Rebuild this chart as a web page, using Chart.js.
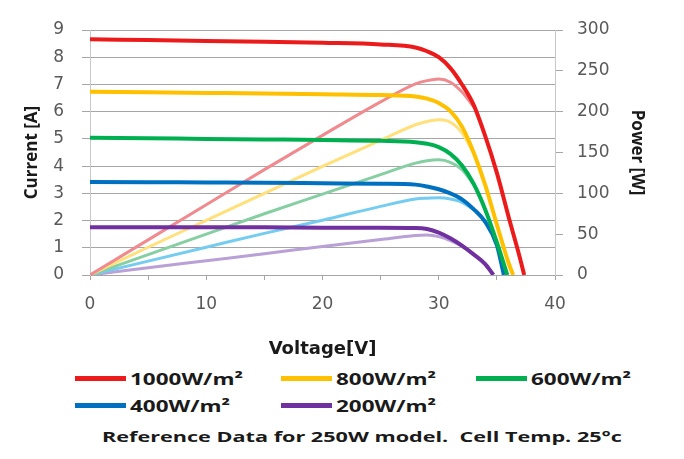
<!DOCTYPE html>
<html lang="en">
<head>
  <meta charset="utf-8" />
  <title>I-V / P-V curves</title>
  <style>
body { margin: 0; background: #fff; width: 684px; height: 459px; overflow: hidden; position: relative; }
#chartBox { position: absolute; left: 0; top: 0; width: 684px; height: 365px; }
.item { position: absolute; height: 20px; line-height: 20px; white-space: nowrap; }
.swatch { position: absolute; top: 8px; width: 51px; height: 5px; }
.lbl { position: absolute; top: 0; font: bold 16px "Open Sans", sans-serif; color: #1a1a1a; transform-origin: 0 50%; }
#note { position: absolute; left: 0; top: 426px; font: bold 15px "Open Sans", sans-serif; color: #1a1a1a; white-space: nowrap; transform-origin: 0 50%; }
  </style>
</head>
<body>
  <div id="chartBox"><canvas id="myChart" width="684" height="365"></canvas></div>
  <div id="legend"></div>
  <div id="note">Reference Data for 250W model.&nbsp; Cell Temp. 25°c</div>
  <script src="https://cdn.jsdelivr.net/npm/chart.js@4"></script>
  <script>
// voltage steps (V) shared by all curves
const voltageGrid = [0, 5, 10, 15, 20, 25, 28, 29, 30, 31, 32, 33, 34, 35, 36, 37];
const seriesNames = ['1000W/m²', '800W/m²', '600W/m²', '400W/m²', '200W/m²'];
const ivColors = ['#ec1b1b', '#ffc000', '#00b050', '#0070c0', '#7030a0'];
const powerColors = ['#f08a8e', '#ffe07a', '#86cfa2', '#74cdf0', '#b9a0d6'];

// current [A] read on voltageGrid, then drops to 0 at open-circuit voltage
const current1000 = [8.66, 8.63, 8.60, 8.57, 8.53, 8.47, 8.36, 8.22, 8.00, 7.60, 7.00, 6.25, 5.10, 3.75, 2.15, 0.60];
const current800  = [6.73, 6.71, 6.69, 6.67, 6.64, 6.61, 6.56, 6.48, 6.32, 6.02, 5.45, 4.50, 3.30, 1.85, 0.45];
const current600  = [5.04, 5.02, 5.00, 4.98, 4.96, 4.93, 4.88, 4.82, 4.70, 4.45, 4.02, 3.35, 2.40, 1.20];
const current400  = [3.42, 3.41, 3.40, 3.39, 3.37, 3.35, 3.32, 3.25, 3.15, 3.00, 2.78, 2.42, 1.95, 1.10];
const current200  = [1.75, 1.75, 1.75, 1.75, 1.74, 1.74, 1.73, 1.69, 1.56, 1.35, 1.08, 0.76, 0.40];
const openCircuitV = [37.35, 36.4, 35.9, 35.6, 34.7];

// power [W] read on voltageGrid (0..33V, the tail runs under the current curve)
const power1000 = [0, 43, 86, 129, 171, 212, 234, 238, 240, 236, 224, 206];
const power800  = [0, 34, 67, 100, 133, 165, 184, 188, 190, 187, 174, 149];
const power600  = [0, 25, 50, 75, 99, 123, 137, 140, 141, 138, 129, 111];
const power400  = [0, 17, 34, 51, 67, 84, 93, 94, 94.5, 93, 89, 80];
const power200  = [0, 9, 17.5, 26, 35, 43.5, 48.4, 49, 47, 42, 35, 25];

const currents = [current1000, current800, current600, current400, current200];
const powers = [power1000, power800, power600, power400, power200];

function toPoints(vals, endV) {
  const pts = vals.map((y, i) => ({x: voltageGrid[i], y: y}));
  if (endV != null) pts.push({x: endV, y: 0});
  return pts;
}

const datasets = [];
for (let k = 0; k < seriesNames.length; k++) {
  datasets.push({
    label: seriesNames[k],
    data: toPoints(currents[k], openCircuitV[k]),
    borderColor: ivColors[k],
    borderWidth: 4,
    pointRadius: 0,
    cubicInterpolationMode: 'monotone',
    yAxisID: 'y',
    order: 1
  });
}
for (let k = 0; k < seriesNames.length; k++) {
  datasets.push({
    label: seriesNames[k] + ' power',
    data: toPoints(powers[k], null),
    borderColor: powerColors[k],
    borderWidth: 3,
    pointRadius: 0,
    cubicInterpolationMode: 'monotone',
    yAxisID: 'y1',
    order: 2
  });
}

const tickFont = {family: 'DejaVu Sans', size: 17};
const gridColor = '#a6a6a6';

new Chart(document.getElementById('myChart'), {
  type: 'line',
  data: {datasets: datasets},
  options: {
    responsive: false,
    animation: false,
    layout: {padding: {top: 30, left: 0, right: 0, bottom: 0}},
    plugins: {legend: {display: false}, tooltip: {enabled: false}},
    scales: {
      x: {
        type: 'linear', min: 0, max: 40,
        ticks: {
          stepSize: 5, font: tickFont, color: '#595959', padding: 14, maxRotation: 0,
          callback: v => (v % 10 === 0 ? v : '')
        },
        grid: {drawOnChartArea: false, color: gridColor, tickLength: 5},
        border: {color: gridColor},
        title: {display: true, text: 'Voltage[V]', color: '#1a1a1a',
                font: {family: 'DejaVu Sans', size: 18, weight: 'bold'}, padding: {top: 0, bottom: 5}},
        afterFit: s => { s.height = 90; }
      },
      y: {
        position: 'left', min: 0, max: 9,
        ticks: {stepSize: 1, font: tickFont, color: '#595959', padding: 18},
        grid: {color: gridColor, tickLength: 8},
        border: {color: '#c8c8c8'},
        title: {display: true, text: 'Current [A]', color: '#1a1a1a',
                font: {family: 'Open Sans', size: 17, weight: 'bold'}, padding: {top: 22, bottom: 0}},
        afterFit: s => { s.width = 90; }
      },
      y1: {
        position: 'right', min: 0, max: 300,
        ticks: {stepSize: 50, font: tickFont, color: '#595959', padding: 14},
        grid: {drawOnChartArea: false, color: gridColor, tickLength: 8},
        border: {color: '#c8c8c8'},
        title: {display: true, text: 'Power [W]', color: '#1a1a1a',
                font: {family: 'Open Sans', size: 17, weight: 'bold'}, padding: {top: 37, bottom: 0}},
        afterFit: s => { s.width = 129; }
      }
    }
  }
});

// legend below the chart, two rows
const legendCols = [75, 281, 476];
const legendRows = [378, 405];
const legend = document.getElementById('legend');
const labels = [];
seriesNames.forEach((name, k) => {
  const item = document.createElement('div');
  item.className = 'item';
  item.style.left = legendCols[k % 3] + 'px';
  item.style.top = (legendRows[Math.floor(k / 3)] - 10) + 'px';
  const sw = document.createElement('span');
  sw.className = 'swatch';
  sw.style.left = '0px';
  sw.style.background = ivColors[k];
  const tx = document.createElement('span');
  tx.className = 'lbl';
  tx.style.left = '55px';
  tx.textContent = name;
  item.appendChild(sw);
  item.appendChild(tx);
  legend.appendChild(item);
  labels.push(tx);
});
// widen text to the proportions of the original
const lblScale = 113 / labels[0].getBoundingClientRect().width;
labels.forEach(t => { t.style.transform = 'scaleX(' + lblScale + ')'; });
const note = document.getElementById('note');
const noteW = note.getBoundingClientRect().width;
note.style.left = '102px';
note.style.transform = 'scaleX(' + (520 / noteW) + ')';
  </script>
</body>
</html>
